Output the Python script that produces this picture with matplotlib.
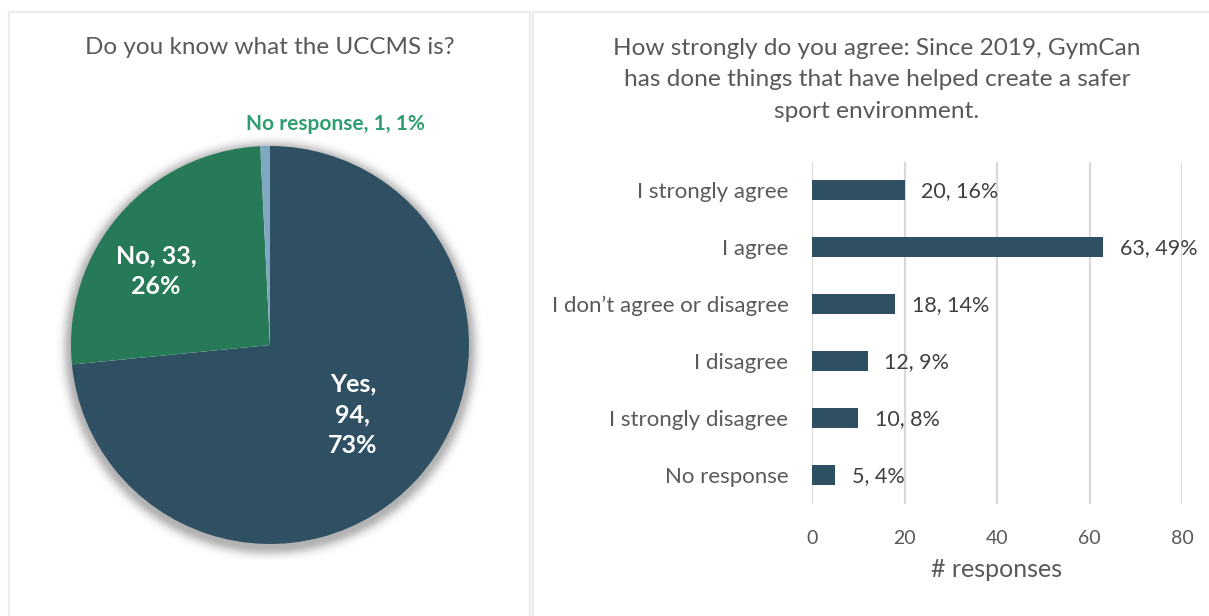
import numpy as np
import matplotlib
matplotlib.use("Agg")
import matplotlib.pyplot as plt
from matplotlib.patches import Rectangle

plt.rcParams['font.family'] = ['Lato', 'DejaVu Sans']

# ---- data ----
pie_labels = ["Yes", "No", "No response"]
pie_values = [94, 33, 1]

bar_categories = ["I strongly agree", "I agree", "I don\u2019t agree or disagree",
                  "I disagree", "I strongly disagree", "No response"]
bar_values = [20, 63, 18, 12, 10, 5]
x_ticks = [0, 20, 40, 60, 80]

pie_title = "Do you know what the UCCMS is?"
bar_title = ("How strongly do you agree: Since 2019, GymCan\n"
             "has done things that have helped create a safer\n"
             "sport environment.")
x_label = "# responses"

# ---- style ----
DARK = "#2f5063"
GREEN = "#267a57"
LIGHT = "#7fa8c0"
LABEL_GREEN = "#2e9e72"
TEXT = "#595959"
VALUE_TEXT = "#404040"
GRID = "#d9d9d9"

W, H = 1209, 616
fig = plt.figure(figsize=(W / 100, H / 100), dpi=100)
fig.patch.set_facecolor("white")


def fx(px):
    return px / W


def fy(py):
    return 1 - py / H


# panel frames
for (x0, y0, x1, y1) in [(9, 12, 530, 640), (533, 12, 1240, 640)]:
    fig.add_artist(Rectangle((fx(x0), fy(y1)), fx(x1) - fx(x0), fy(y0) - fy(y1),
                             transform=fig.transFigure, fill=False,
                             edgecolor="#ececec", linewidth=1.6, clip_on=False))

# ---- pie ----
cx, cy, half = 270, 345, 215
ax_pie = fig.add_axes([fx(cx - half), fy(cy + half), 2 * half / W, 2 * half / H])
R = 199 / half

wedges, _ = ax_pie.pie(pie_values, colors=[DARK, GREEN, LIGHT], startangle=90,
                       counterclock=False, radius=R, center=(0, 0),
                       wedgeprops=dict(linewidth=0))
for w in wedges:
    w.set_zorder(2)

# soft drop shadow behind the pie
n = 600
g = np.linspace(-1, 1, n)
xx, yy = np.meshgrid(g, g)
dist = np.sqrt(xx ** 2 + (yy + 0.015) ** 2)
edge = (dist - R) / 0.045
alpha = np.exp(-np.clip(edge, 0, None) ** 2 * 1.4) * 0.30
alpha[dist < R * 0.97] = 0
shadow = np.zeros((n, n, 4))
shadow[..., 3] = alpha
ax_pie.imshow(shadow, extent=(-1, 1, -1, 1), origin="lower", zorder=0,
              interpolation="bilinear")

ax_pie.set_xlim(-1, 1)
ax_pie.set_ylim(-1, 1)
ax_pie.set_aspect("equal")
ax_pie.axis("off")

total_pie = sum(pie_values)
pie_pct = [round(v / total_pie * 100) for v in pie_values]
bold_white = dict(color="white", fontsize=18, fontweight="bold", ha="center",
                  va="center", linespacing=1.4, zorder=3)
ax_pie.text((353 - cx) / half, -(415 - cy) / half,
            f"{pie_labels[0]},\n{pie_values[0]},\n{pie_pct[0]}%", **bold_white)
ax_pie.text((156 - cx) / half, -(271 - cy) / half,
            f"{pie_labels[1]}, {pie_values[1]},\n{pie_pct[1]}%", **bold_white)
ax_pie.text((335 - cx) / half, -(124 - cy) / half,
            f"{pie_labels[2]}, {pie_values[2]}, {pie_pct[2]}%",
            color=LABEL_GREEN, fontsize=15, fontweight="bold",
            ha="center", va="center", zorder=3)

fig.text(fx(270), fy(48), pie_title, ha="center", va="center",
         color=TEXT, fontsize=17.5)

# ---- bar chart ----
ax = fig.add_axes([fx(812), fy(503.5), (1182 - 812) / W, 342 / H])
y = np.arange(len(bar_categories))
ax.barh(y, bar_values, height=0.35, color=DARK, zorder=3)
ax.set_ylim(len(bar_categories) - 0.5, -0.5)
ax.set_xlim(x_ticks[0], x_ticks[-1])
ax.set_xticks(x_ticks)
ax.set_yticks(y)
ax.set_yticklabels(bar_categories)
ax.tick_params(axis="y", length=0, pad=17, labelsize=16, labelcolor=TEXT)
ax.tick_params(axis="x", length=0, pad=19, labelsize=14, labelcolor=TEXT)
for s in ax.spines.values():
    s.set_visible(False)
ax.xaxis.grid(True, color=GRID, linewidth=1.6, zorder=0)
ax.set_xlabel(x_label, fontsize=18, color=TEXT, labelpad=8)

total_bar = sum(bar_values)
for yi, v in zip(y, bar_values):
    ax.annotate(f"{v}, {round(v / total_bar * 100)}%", xy=(v, yi),
                xytext=(12, -1), textcoords="offset points",
                ha="left", va="center", fontsize=15.5, color=VALUE_TEXT)

fig.text(fx(877), fy(80), bar_title, ha="center", va="center",
         color=TEXT, fontsize=17.6, linespacing=1.6)

fig.savefig("out.png", dpi=100, facecolor="white")
